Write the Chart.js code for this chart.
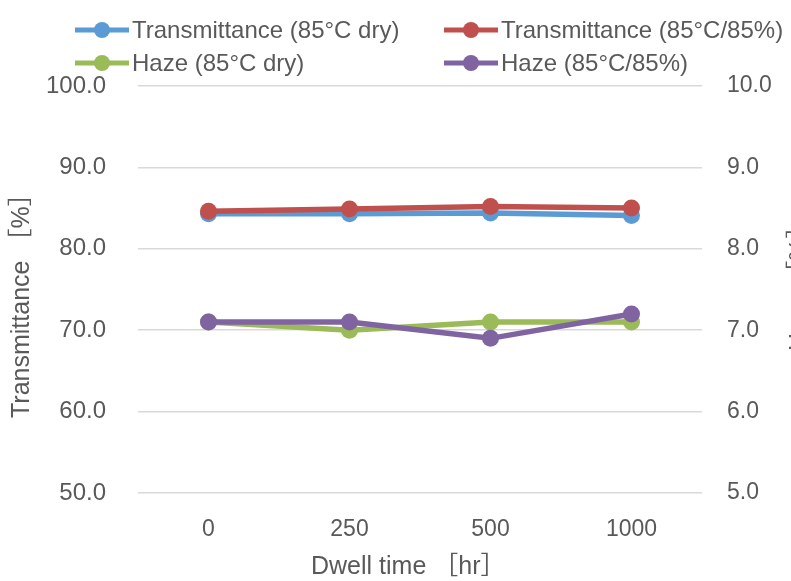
<!DOCTYPE html>
<html><head><meta charset="utf-8">
<script src="https://cdn.jsdelivr.net/npm/chart.js@4.4.0/dist/chart.umd.min.js"></script>
<style>html,body{margin:0;padding:0;background:#fff;overflow:hidden}#wrap{width:791px;height:581px;position:relative}</style>
</head><body><div id="wrap"><canvas id="c"></canvas></div>
<script>
const categories = ['0', '250', '500', '1000'];
const transDry = [84.3, 84.3, 84.4, 84.1];
const transWet = [84.6, 84.9, 85.2, 85.0];
const hazeDry = [7.1, 7.0, 7.1, 7.1];
const hazeWet = [7.1, 7.1, 6.9, 7.2];
const seriesLabels = ['Transmittance (85°C dry)', 'Transmittance (85°C/85%)', 'Haze (85°C dry)', 'Haze (85°C/85%)'];
const leftRange = [50, 100, 10];
const rightRange = [5, 10, 1];
const xTitle = 'Dwell time ［hr］';
const leftTitle = 'Transmittance ［%］';
const rightTitle = 'Haze ［%］';

const FAMILY = "'Liberation Sans', Arial, 'Noto Sans CJK JP', sans-serif";
const TEXT = '#595959';
const colors = ['#5B9BD5', '#C0504D', '#9BBB59', '#8064A2'];

function mk(i, data, axis, order) {
  return {
    label: seriesLabels[i], data: data, yAxisID: axis, order: order,
    borderColor: colors[i], backgroundColor: colors[i],
    pointBackgroundColor: colors[i], pointBorderColor: colors[i],
    borderWidth: 5.5, pointRadius: 8.5, pointHoverRadius: 8.5, pointBorderWidth: 0,
    tension: 0, fill: false
  };
}

function rotText(ctx, text, x, y, align) {
  ctx.save();
  ctx.translate(x, y);
  ctx.rotate(-Math.PI / 2);
  ctx.textAlign = align;
  ctx.fillText(text, 0, 0);
  ctx.restore();
}

const customDraw = {
  id: 'customDraw',
  afterDraw(chart) {
    const ctx = chart.ctx;
    const sc = chart.options.scales;
    ctx.save();
    ctx.font = '24px ' + FAMILY;
    ctx.textBaseline = 'middle';
    ctx.textAlign = 'left';
    // legend
    const cols = [75, 444], rows = [30, 63];
    chart.data.datasets.forEach((ds, i) => {
      const x = cols[i % 2], y = rows[Math.floor(i / 2)];
      ctx.strokeStyle = ds.borderColor; ctx.lineWidth = 5;
      ctx.beginPath(); ctx.moveTo(x, y); ctx.lineTo(x + 54, y); ctx.stroke();
      ctx.fillStyle = ds.backgroundColor;
      ctx.beginPath(); ctx.arc(x + 27, y, 8, 0, Math.PI * 2); ctx.fill();
      ctx.fillStyle = TEXT;
      ctx.fillText(ds.label, x + 57, y + 1);
    });
    // axis titles
    ctx.fillStyle = TEXT;
    ctx.font = '25px ' + FAMILY;
    ctx.textAlign = 'left';
    ctx.fillText(sc.x.title.text, 311, 567);
    rotText(ctx, sc.y.title.text, 22, 418, 'left');
    rotText(ctx, sc.y1.title.text, 800, 351, 'left');
    ctx.restore();
  }
};

new Chart(document.getElementById('c'), {
  type: 'line',
  data: {
    labels: categories,
    datasets: [
      mk(0, transDry, 'y', 1),
      mk(1, transWet, 'y', 0),
      mk(2, hazeDry, 'y1', 1),
      mk(3, hazeWet, 'y1', 0)
    ]
  },
  options: {
    responsive: true, maintainAspectRatio: false, animation: false,
    layout: { padding: { top: 86, left: 0, right: 0, bottom: 0 } },
    plugins: { legend: { display: false }, tooltip: { enabled: false } },
    scales: {
      x: {
        offset: true,
        grid: { display: false, drawTicks: false },
        border: { display: false },
        ticks: { color: TEXT, font: { family: FAMILY, size: 23 }, padding: 23, maxRotation: 0 },
        title: { display: false, text: xTitle },
        afterFit(s) { s.height = 88; }
      },
      y: {
        position: 'left', min: leftRange[0], max: leftRange[1],
        grid: { color: '#D9D9D9', lineWidth: 1.5, drawTicks: false },
        border: { display: false },
        ticks: { stepSize: leftRange[2], color: TEXT, font: { family: FAMILY, size: 24 }, padding: 32, callback: v => Number(v).toFixed(1) },
        title: { display: false, text: leftTitle },
        afterFit(s) { s.width = 138; }
      },
      y1: {
        position: 'right', min: rightRange[0], max: rightRange[1],
        grid: { display: false, drawTicks: false },
        border: { display: false },
        ticks: { stepSize: rightRange[2], color: TEXT, font: { family: FAMILY, size: 23 }, padding: 25, callback: v => Number(v).toFixed(1) },
        title: { display: false, text: rightTitle },
        afterFit(s) { s.width = 89; }
      }
    }
  },
  plugins: [customDraw]
});
</script>
</body></html>
